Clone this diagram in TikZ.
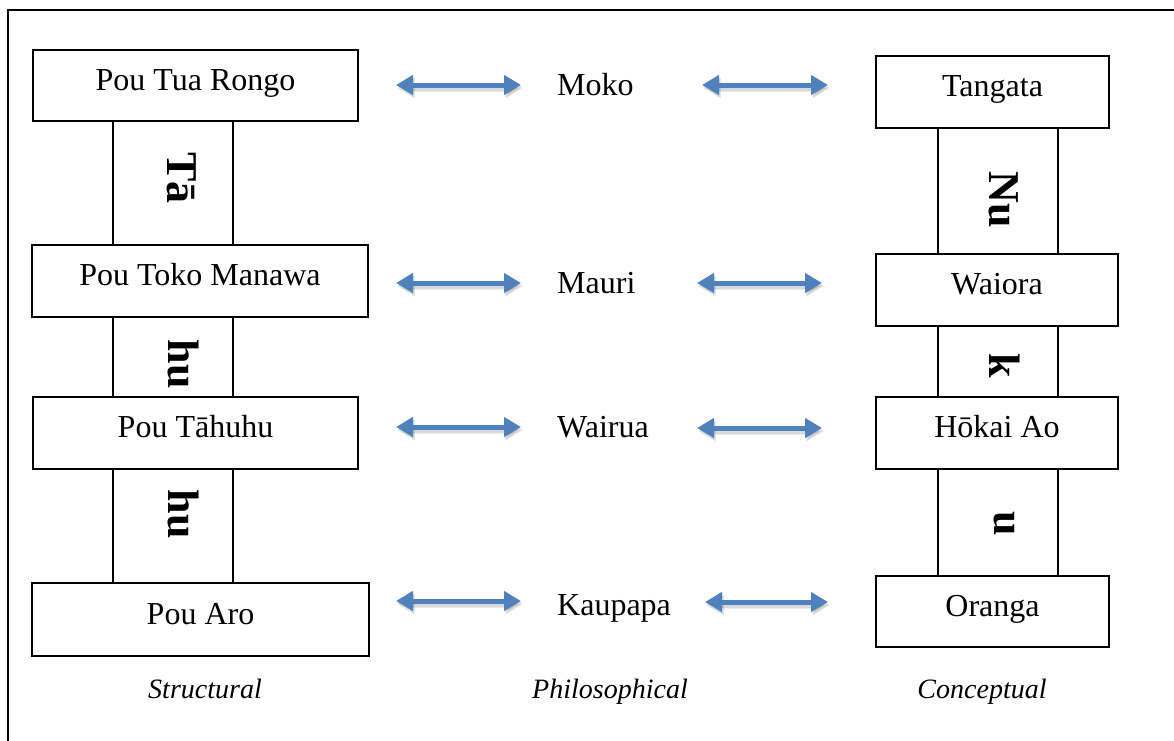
\documentclass[tikz,border=0pt]{standalone}
\usepackage{fontspec}
\setmainfont{Liberation Serif}
\usetikzlibrary{arrows.meta}
\definecolor{arrowblue}{HTML}{4F81BD}
\tikzset{
  pou/.style={draw, line width=1.6pt, inner sep=0pt, align=center,
    font=\fontsize{32}{38}\selectfont, text height=22pt, text depth=13pt},
  stemline/.style={line width=1.6pt},
  stemtext/.style={rotate=-90, inner sep=0pt, font=\fontsize{44}{52}\selectfont\bfseries},
  midtext/.style={anchor=base west, inner sep=0pt, font=\fontsize{32}{38}\selectfont},
  caption/.style={anchor=base, inner sep=0pt, font=\fontsize{28}{34}\selectfont\itshape},
  twoway/.style={line width=5pt, draw=arrowblue,
    {Triangle[length=17pt,width=19pt]}-{Triangle[length=17pt,width=19pt]}},
  twowayshadow/.style={line width=#1, draw=black, opacity=0.08,
    {Triangle[length=17pt,width=19pt]}-{Triangle[length=17pt,width=19pt]}},
}
\begin{document}
\begin{tikzpicture}[x=1pt,y=-1pt]
\useasboundingbox (0,0) rectangle (1174,740);
\clip (0,0) rectangle (1174,740);
% frame, running past the right and lower edges
\draw[line width=1.6pt] (8,10) rectangle (1200,770);

% structural column
\node[pou, minimum width=325pt, minimum height=71pt] (L1) at (195.5,85.5) {Pou Tua Rongo};
\node[pou, minimum width=336pt, minimum height=72pt] (L2) at (200,281) {Pou Toko Manawa};
\node[pou, minimum width=325pt, minimum height=72pt] (L3) at (195.5,433) {Pou Tāhuhu};
\node[pou, minimum width=337pt, minimum height=73pt] (L4) at (200.5,619.5) {Pou Aro};

\coordinate (lx1) at (113,0);
\coordinate (lx2) at (233,0);
\foreach \p/\q in {L1/L2, L2/L3, L3/L4}{
  \draw[stemline] (\p.south -| lx1) -- (\q.north -| lx1);
  \draw[stemline] (\p.south -| lx2) -- (\q.north -| lx2);
}
\node[stemtext] (t1) at (182,178) {Tā};
\node[stemtext] (t2) at (183,364) {hu};
\node[stemtext] (t3) at (183,514) {hu};

% conceptual column
\node[pou, minimum width=233pt, minimum height=72pt] (R1) at (992.5,92) {Tangata};
\node[pou, minimum width=242pt, minimum height=72pt] (R2) at (997,290) {Waiora};
\node[pou, minimum width=242pt, minimum height=72pt] (R3) at (997,433) {Hōkai Ao};
\node[pou, minimum width=233pt, minimum height=71pt] (R4) at (992.5,611.5) {Oranga};

\coordinate (rx1) at (938,0);
\coordinate (rx2) at (1058,0);
\foreach \p/\q in {R1/R2, R2/R3, R3/R4}{
  \draw[stemline] (\p.south -| rx1) -- (\q.north -| rx1);
  \draw[stemline] (\p.south -| rx2) -- (\q.north -| rx2);
}
\node[stemtext] (n1) at (1004,200) {Nu};
\node[stemtext] (n2) at (1005,366) {k};
\node[stemtext] (n3) at (1004,524) {u};

% philosophical column
\node[midtext] (M1) at (557,95) {Moko};
\node[midtext] (M2) at (557,293) {Mauri};
\node[midtext] (M3) at (557,437) {Wairua};
\node[midtext] (M4) at (557,615) {Kaupapa};

% captions
\node[caption] (c1) at (205,698) {Structural};
\node[caption] (c2) at (610,698) {Philosophical};
\node[caption] (c3) at (982,698) {Conceptual};

% two-way arrows with a soft drop shadow
\coordinate (a1) at (396,85);  \coordinate (b1) at (521,85);
\coordinate (a2) at (702,85);  \coordinate (b2) at (828,85);
\coordinate (a3) at (396,283); \coordinate (b3) at (521,283);
\coordinate (a4) at (697,283); \coordinate (b4) at (822,283);
\coordinate (a5) at (396,427); \coordinate (b5) at (521,427);
\coordinate (a6) at (697,428); \coordinate (b6) at (822,428);
\coordinate (a7) at (396,601); \coordinate (b7) at (521,601);
\coordinate (a8) at (705,602); \coordinate (b8) at (828,602);
\foreach \u/\v in {a1/b1,a2/b2,a3/b3,a4/b4,a5/b5,a6/b6,a7/b7,a8/b8}{
  \draw[twowayshadow=8pt] ([shift={(1.5,3)}]\u) -- ([shift={(1.5,3)}]\v);
  \draw[twowayshadow=5pt] ([shift={(1.5,3)}]\u) -- ([shift={(1.5,3)}]\v);
  \draw[twoway] (\u) -- (\v);
}
\end{tikzpicture}
\end{document}
